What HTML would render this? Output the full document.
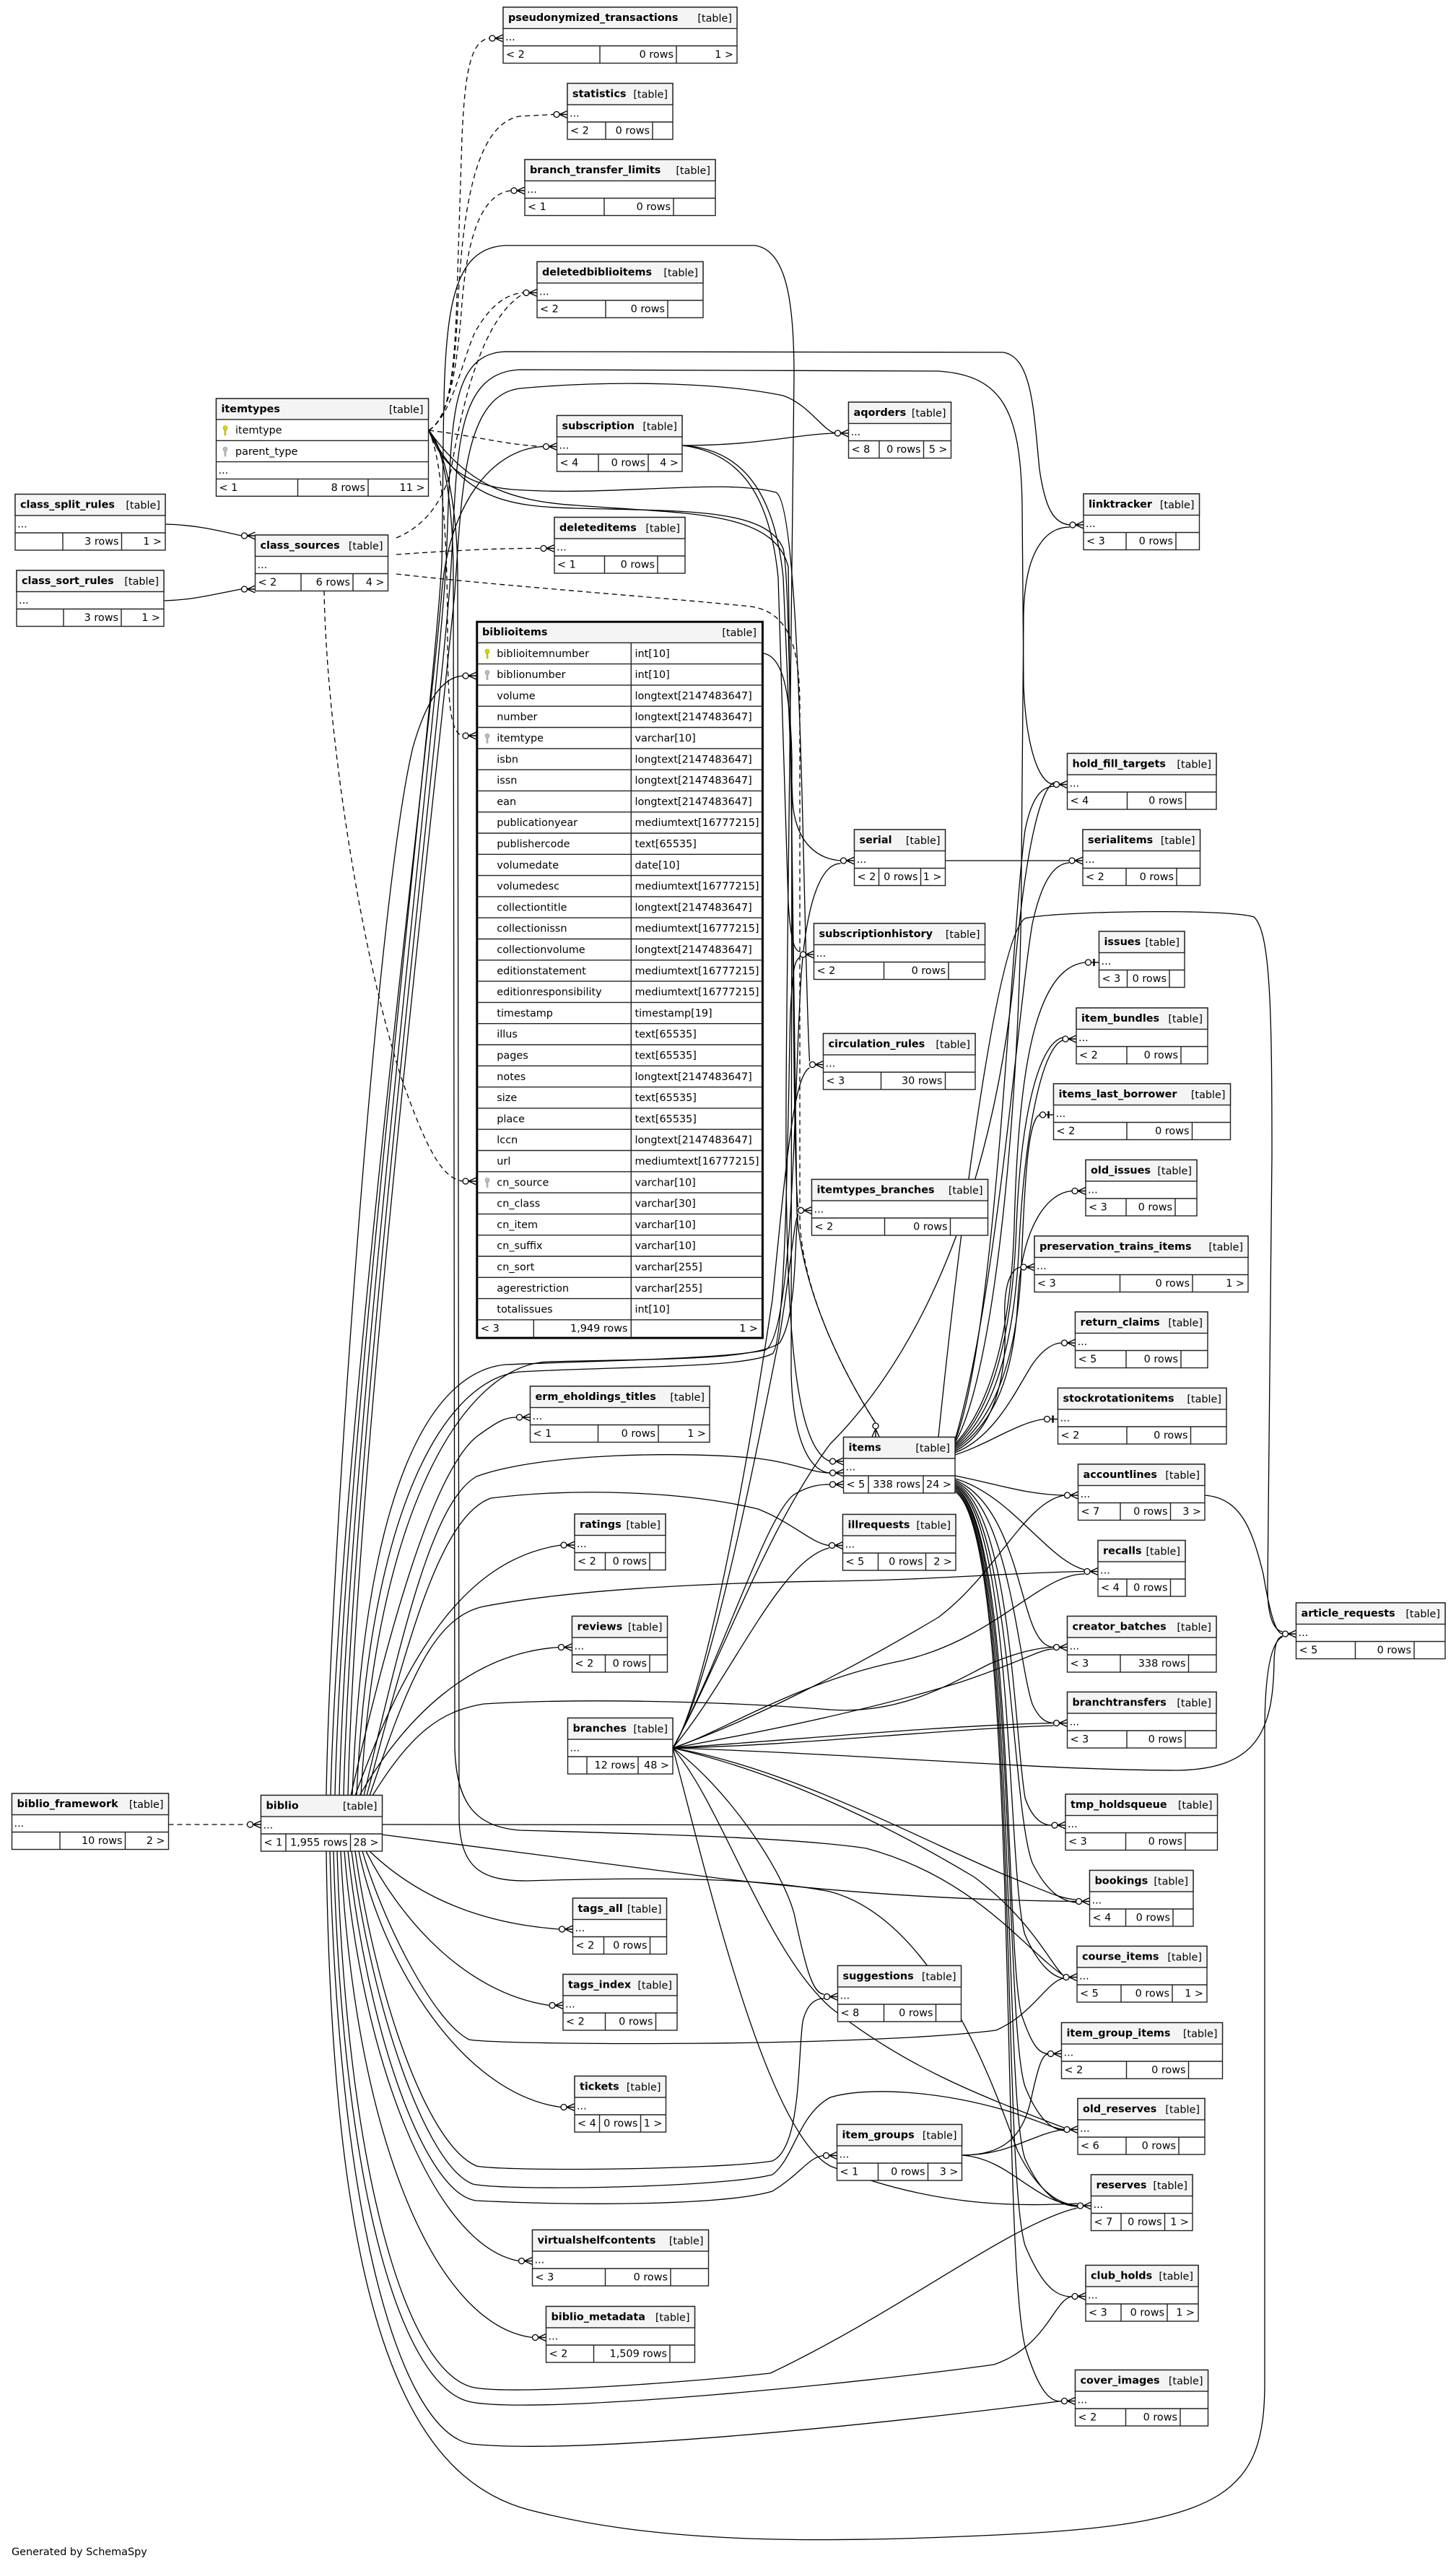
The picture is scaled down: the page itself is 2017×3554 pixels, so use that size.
<!DOCTYPE html>
<html><head><meta charset="utf-8"><style>
html,body{margin:0;padding:0;background:#fff;}
svg{display:block}
text{font-family:"DejaVu Sans","Liberation Sans",sans-serif;font-size:14.4px;fill:#000}
.t{font-weight:bold}
.e{text-anchor:end}
.b{fill:#fff;stroke:#222;stroke-width:1.4}
.h{fill:#f4f4f4;stroke:#222;stroke-width:1.4}
.l{stroke:#222;stroke-width:1.4;fill:none}
.ed path{fill:none;stroke:#000;stroke-width:1.3}
.ed path.ds{stroke-dasharray:7,5}
.m circle{fill:#fff;stroke:#000;stroke-width:1.3}
.m path{fill:none;stroke:#000;stroke-width:1.4}
.tee path.bar{stroke-width:2.4}
.pk{fill:#e0d400;stroke:#a89c00;stroke-width:0.6}
.fk{fill:#bdbdbd;stroke:#909090;stroke-width:0.6}
</style></head><body>
<svg width="2017" height="3554" viewBox="0 0 2017 3554" xmlns="http://www.w3.org/2000/svg">
<rect width="2017" height="3554" fill="#fff"/>
<g class="ed">
<!-- dashed -->
<path class="ds" d="M594,596 C622,580 628,520 632,440 L640,190 C644,100 652,56 678,53"/>
<path class="ds" d="M594,596 C624,578 630,510 634,430 C640,300 656,172 720,161 L767,158.5"/>
<path class="ds" d="M594,596 C624,578 634,500 640,420 C648,320 670,268 708,264"/>
<path class="ds" d="M594,596 C626,576 640,500 658,460 C678,425 700,407 725,405.5"/>
<path class="ds" d="M549,745 C585,730 612,700 625,650 C640,560 668,440 725,407"/>
<path class="ds" d="M594,596 C660,604 700,616 752.5,618.5"/>
<path class="ds" d="M594,596 C614,640 620,760 620,880 C620,980 625,1016 641,1019"/>
<path class="ds" d="M549,768 C620,763 690,759 749,759.5"/>
<path class="ds" d="M549,795 C700,812 900,826 1040,840 C1095,848 1108,900 1108,980 L1108,1690 C1112,1800 1180,1920 1213,1971"/>
<path class="ds" d="M449,818 C452,1000 495,1300 555,1490 C590,1590 612,1632 641,1636"/>
<path class="ds" d="M233.5,2527 L342.5,2527"/>
<!-- solid misc -->
<path d="M229,726 C270,727 300,734 334.5,742"/>
<path d="M227,832 C270,831 300,822 334.5,816"/>
<path d="M945,617 C1050,617 1100,602 1156.5,600"/>
<path d="M1309.5,1192 L1481,1192"/>
<path d="M945,617 C1040,622 1075,700 1085,800 L1098,1110 C1102,1170 1135,1190 1164.5,1192"/>
<path d="M945,617 C1035,628 1068,700 1078,800 L1092,1250 C1095,1300 1100,1318 1108.5,1318"/>
<path d="M594,596 C610,640 640,672 710,678 C850,688 1000,662 1075,682 C1112,700 1112,1300 1121.5,1470"/>
<path d="M594,596 C640,690 700,702 800,704 C950,708 1062,704 1085,760 C1100,820 1096,1600 1105.5,1672"/>
<path d="M594,596 C645,668 700,694 800,700 C950,712 1072,706 1092,785 L1104,1680 C1112,1800 1180,1920 1213,1971"/>
<path d="M1058,905 C1085,910 1095,960 1097,1050 L1096,1900 C1098,1990 1120,2038 1149.5,2040"/>
<!-- biblio up bundle -->
<path d="M452,2487 C456,2200 520,1250 572,1035 C592,965 615,938 641,936"/>
<path d="M458,2487 C470,2000 598,1000 612,820 C622,700 680,622 752.5,618.5"/>
<path d="M464,2487 C476,2000 600,1000 612,780 C618,500 600,345 700,340 L1045,340 C1090,345 1100,420 1100,520 L1090,1400 C1086,1750 1090,2000 1149.5,2024"/>
<path d="M470,2487 C482,2000 606,1000 618,780 C626,600 618,490 700,487 L1390,488 C1430,495 1432,570 1440,650 C1448,705 1460,725 1482,727"/>
<path d="M476,2487 C488,2000 610,1000 624,800 C634,640 626,516 720,512 L1300,514 C1390,520 1414,570 1416,700 L1418,950 C1422,1040 1440,1084 1459.5,1086.5"/>
<path d="M482,2487 C494,2000 614,1000 630,820 C640,680 642,548 720,538 C850,526 1000,530 1085,548 C1120,560 1140,596 1156.5,600"/>
<path d="M488,2487 C505,2050 600,1900 700,1890 C850,1884 1000,1882 1060,1870 C1100,1850 1100,1500 1110,1350 C1118,1240 1140,1196 1164.5,1196"/>
<path d="M494,2487 C512,2080 620,1910 720,1900 C870,1892 1030,1895 1070,1875 C1090,1860 1092,1500 1095,1400 C1098,1345 1100,1330 1108.5,1326"/>
<path d="M500,2487 C520,2100 640,1890 760,1886 C900,1882 1045,1885 1080,1860 C1105,1820 1100,1720 1105.5,1681"/>
<path d="M486,2487 C540,2250 600,2040 660,1990 C690,1968 700,1963 715.5,1963"/>
<path d="M492,2487 C560,2300 640,2160 777,2140"/>
<path d="M498,2487 C560,2380 650,2290 773.5,2281.5"/>
<path d="M504,2487 C560,2250 600,2080 660,2045 C750,2012 950,2010 1050,2020 C1100,2026 1125,2040 1149.5,2040"/>
<path d="M508,2487 C565,2270 610,2100 680,2075 C800,2060 950,2066 1050,2090 C1100,2110 1125,2138 1148.5,2140.5"/>
<path d="M512,2487 C565,2330 600,2240 670,2225 C800,2200 1000,2192 1150,2190 C1300,2188 1400,2178 1502,2176.5"/>
<path d="M516,2487 C570,2400 610,2370 670,2360 C800,2352 1000,2356 1150,2368 C1250,2375 1320,2330 1370,2305 C1410,2288 1440,2282 1459.5,2281.5"/>
<path d="M529.5,2527 L1457,2528"/>
<path d="M529.5,2541 L1000,2602 C1200,2625 1350,2632 1490.5,2633.5"/>
<!-- itemtypes long verticals -->
<path d="M594,596 C615,620 628,700 628,800 L630,2420 C632,2500 660,2530 720,2535 C900,2540 1100,2545 1200,2560 C1350,2600 1420,2700 1473,2736"/>
<path d="M594,596 C617,625 634,700 634,800 L636,2520 C638,2590 670,2605 730,2605 C900,2600 1050,2600 1150,2620 C1300,2660 1380,2900 1410,2980 C1440,3040 1470,3053 1492.5,3055"/>
<!-- biblio bottom fan -->
<path d="M512,2564 C560,2610 640,2662 774.5,2672"/>
<path d="M507,2564 C550,2650 640,2760 761,2777.5"/>
<path d="M502,2564 C530,2660 600,2800 650,2825 C700,2833 1200,2835 1380,2812 C1430,2790 1450,2745 1473,2740"/>
<path d="M497,2564 C530,2720 640,2900 777,2918.5"/>
<path d="M492,2564 C520,2760 590,2970 660,3000 C700,3008 1000,3005 1070,2993 C1110,2975 1105,2850 1112,2800 C1118,2775 1130,2768 1141.5,2768"/>
<path d="M487,2564 C515,2780 590,3000 655,3025 C700,3035 1000,3030 1070,3012 C1100,2990 1105,2930 1150,2905 C1200,2890 1300,2895 1400,2925 C1440,2938 1460,2948 1474,2949.5"/>
<path d="M482,2564 C510,2820 590,3040 660,3048 C800,3055 1000,3055 1070,3035 C1110,3010 1120,2988 1140.5,2985.5"/>
<path d="M477,2564 C500,2850 600,3110 718.5,3131.5"/>
<path d="M472,2564 C490,2950 600,3220 737.5,3237.5"/>
<path d="M467,2564 C480,3000 560,3280 653,3306 C700,3318 950,3300 1067,3287 C1250,3200 1400,3080 1492.5,3058"/>
<path d="M462,2564 C475,3050 560,3310 653,3327 C750,3345 1200,3300 1377,3275 C1450,3250 1460,3185 1485,3180.5"/>
<path d="M457,2564 C470,3100 560,3370 653,3385 C800,3400 1200,3360 1470.5,3325.5"/>
<path d="M452,2564 C460,3200 560,3430 732,3476 C900,3520 1100,3525 1400,3510 C1700,3495 1752,3450 1752,3300 L1752,2400 C1752,2320 1760,2275 1776.5,2267"/>
<!-- items -> article_requests top loop -->
<path d="M1300,1990 C1330,1700 1380,1300 1420,1272 C1460,1262 1700,1258 1737,1270 C1760,1290 1762,1400 1762,1600 L1756,2200 C1756,2240 1765,2258 1776.5,2260"/>
<path d="M1669,2071 C1720,2075 1735,2120 1750,2180 C1760,2240 1768,2262 1776.5,2263"/>
<!-- items top fan -->
<path d="M1323,2000 C1370,1950 1400,1850 1405,1700 C1410,1500 1430,1340 1503.5,1333"/>
<path d="M1323,2002 C1372,1955 1402,1860 1408,1700 C1414,1540 1440,1445 1472,1437"/>
<path d="M1323,2004 C1375,1960 1405,1870 1412,1720 C1420,1560 1445,1450 1472,1441"/>
<path d="M1323,2006 C1378,1965 1410,1880 1415,1750 C1420,1620 1425,1550 1440.5,1544"/>
<path d="M1323,2008 C1380,1970 1405,1900 1410,1800 C1415,1700 1450,1652 1485,1649.5"/>
<path d="M1323,2010 C1380,1980 1395,1900 1392,1830 C1390,1780 1400,1757 1414,1755"/>
<path d="M1323,2012 C1380,1990 1410,1920 1430,1890 C1445,1868 1460,1860 1470.5,1860"/>
<path d="M1323,2015 C1370,2000 1410,1970 1446.5,1965.5"/>
<path d="M1323,1998 C1380,1900 1415,1500 1415,1200 L1418,850 C1420,760 1450,730 1482,730"/>
<path d="M1323,1996 C1380,1850 1400,1300 1420,1150 C1430,1100 1445,1090 1459.5,1089"/>
<path d="M1323,1994 C1380,1800 1410,1400 1430,1280 C1445,1210 1465,1196 1481,1195"/>
<!-- items right fan -->
<path d="M1323,2044 C1380,2055 1420,2070 1474.5,2071"/>
<path d="M1323,2048 C1400,2070 1450,2160 1502,2174"/>
<path d="M1323,2050 C1395,2080 1410,2200 1430,2250 C1440,2275 1450,2281 1459.5,2281.5"/>
<path d="M1323,2052 C1398,2085 1410,2300 1430,2360 C1440,2382 1450,2386 1459.5,2386.5"/>
<path d="M1323,2054 C1400,2090 1405,2400 1420,2490 C1430,2520 1445,2528 1457,2528"/>
<path d="M1323,2056 C1402,2095 1400,2500 1430,2580 C1450,2620 1470,2633 1490.5,2635"/>
<path d="M1323,2058 C1405,2100 1395,2600 1420,2680 C1440,2725 1460,2738 1473,2740"/>
<path d="M1323,2060 C1405,2105 1392,2700 1415,2790 C1430,2835 1440,2844 1451.5,2844.5"/>
<path d="M1323,2060 C1408,2110 1390,2800 1420,2890 C1440,2940 1460,2950 1474,2951"/>
<path d="M1323,2062 C1410,2115 1388,2900 1420,2990 C1445,3045 1470,3055 1492.5,3056"/>
<path d="M1323,2064 C1412,2120 1386,3000 1420,3110 C1445,3170 1465,3181 1485,3181"/>
<path d="M1323,2066 C1414,2125 1384,3100 1420,3250 C1440,3315 1455,3326 1470.5,3326"/>
<!-- branches fan -->
<path d="M932,2421 C980,2350 1040,2000 1070,1800 C1090,1600 1100,1490 1121.5,1479"/>
<path d="M932,2421 C985,2340 1050,2000 1080,1850 C1095,1760 1100,1690 1105.5,1683"/>
<path d="M932,2421 C1000,2300 1060,2100 1100,2070 C1120,2058 1135,2056 1149.5,2056"/>
<path d="M932,2421 C1010,2330 1080,2160 1148.5,2144"/>
<path d="M932,2421 C1050,2380 1200,2300 1300,2240 C1380,2180 1420,2080 1474.5,2071"/>
<path d="M932,2421 C1000,2400 1100,2330 1250,2300 C1380,2270 1440,2180 1502,2180"/>
<path d="M932,2421 C1050,2400 1200,2370 1330,2330 C1420,2300 1440,2284 1459.5,2284"/>
<path d="M932,2421 C1100,2410 1300,2390 1459.5,2386.5"/>
<path d="M932,2421 C1100,2418 1300,2395 1459.5,2390"/>
<path d="M932,2421 C1200,2430 1450,2452 1631,2452 C1740,2450 1764,2400 1765,2300 C1766,2275 1770,2268 1776.5,2266"/>
<path d="M932,2421 C1000,2470 1080,2580 1100,2650 C1115,2720 1125,2762 1141.5,2762"/>
<path d="M932,2421 C1100,2460 1250,2540 1350,2600 C1430,2660 1455,2720 1473,2736"/>
<path d="M932,2421 C1000,2500 1060,2700 1150,2780 C1250,2860 1350,2900 1474,2947"/>
<path d="M932,2421 C980,2600 1060,2950 1150,3000 C1300,3060 1420,3055 1492.5,3052"/>
<path d="M932,2421 C1100,2450 1300,2560 1400,2600 C1450,2620 1470,2630 1490.5,2631"/>
<path d="M932,2421 C1000,2300 1060,2120 1150,2000 C1300,1850 1380,1600 1405,1350 C1420,1180 1440,1095 1459.5,1084"/>
<!-- item_groups fan -->
<path d="M1332.5,2985 C1400,2985 1420,2950 1430,2900 C1440,2855 1445,2846 1451.5,2845"/>
<path d="M1332.5,2985 C1400,2985 1430,2955 1474,2949.5"/>
<path d="M1332.5,2985 C1400,2990 1430,3050 1492.5,3055"/>
</g>

<!-- markers -->
<g class="m">
<g transform="translate(697,53)"><circle cx="-15" r="4"/><path d="M-11,0L0,-5M-11,0H0M-11,0L0,5"/></g>
<g transform="translate(786,158.5)"><circle cx="-15" r="4"/><path d="M-11,0L0,-5M-11,0H0M-11,0L0,5"/></g>
<g transform="translate(727,264)"><circle cx="-15" r="4"/><path d="M-11,0L0,-5M-11,0H0M-11,0L0,5"/></g>
<g transform="translate(744,405.5)"><circle cx="-15" r="4"/><path d="M-11,0L0,-5M-11,0H0M-11,0L0,5"/></g>
<g transform="translate(771.5,618.5)"><circle cx="-15" r="4"/><path d="M-11,0L0,-5M-11,0H0M-11,0L0,5"/></g>
<g transform="translate(768,759.5)"><circle cx="-15" r="4"/><path d="M-11,0L0,-5M-11,0H0M-11,0L0,5"/></g>
<g transform="translate(1175.5,600)"><circle cx="-15" r="4"/><path d="M-11,0L0,-5M-11,0H0M-11,0L0,5"/></g>
<g transform="translate(1501,727)"><circle cx="-15" r="4"/><path d="M-11,0L0,-5M-11,0H0M-11,0L0,5"/></g>
<g transform="translate(1478.5,1086.5)"><circle cx="-15" r="4"/><path d="M-11,0L0,-5M-11,0H0M-11,0L0,5"/></g>
<g transform="translate(1183.5,1192)"><circle cx="-15" r="4"/><path d="M-11,0L0,-5M-11,0H0M-11,0L0,5"/></g>
<g transform="translate(1500,1192)"><circle cx="-15" r="4"/><path d="M-11,0L0,-5M-11,0H0M-11,0L0,5"/></g>
<g transform="translate(1127.5,1322)"><circle cx="-15" r="4"/><path d="M-11,0L0,-5M-11,0H0M-11,0L0,5"/></g>
<g transform="translate(1140.5,1474.5)"><circle cx="-15" r="4"/><path d="M-11,0L0,-5M-11,0H0M-11,0L0,5"/></g>
<g transform="translate(1124.5,1676.5)"><circle cx="-15" r="4"/><path d="M-11,0L0,-5M-11,0H0M-11,0L0,5"/></g>
<g class="tee" transform="translate(1522.5,1333)"><circle cx="-15" r="4"/><path d="M-11,0H0"/><path class="bar" d="M-7,-5V5"/></g>
<g transform="translate(1491,1439)"><circle cx="-15" r="4"/><path d="M-11,0L0,-5M-11,0H0M-11,0L0,5"/></g>
<g class="tee" transform="translate(1459.5,1544)"><circle cx="-15" r="4"/><path d="M-11,0H0"/><path class="bar" d="M-7,-5V5"/></g>
<g transform="translate(1504,1649.5)"><circle cx="-15" r="4"/><path d="M-11,0L0,-5M-11,0H0M-11,0L0,5"/></g>
<g transform="translate(1433,1755)"><circle cx="-15" r="4"/><path d="M-11,0L0,-5M-11,0H0M-11,0L0,5"/></g>
<g transform="translate(1489.5,1860)"><circle cx="-15" r="4"/><path d="M-11,0L0,-5M-11,0H0M-11,0L0,5"/></g>
<g class="tee" transform="translate(1465.5,1965.5)"><circle cx="-15" r="4"/><path d="M-11,0H0"/><path class="bar" d="M-7,-5V5"/></g>
<g transform="translate(1168.5,2024)"><circle cx="-15" r="4"/><path d="M-11,0L0,-5M-11,0H0M-11,0L0,5"/></g>
<g transform="translate(1168.5,2040)"><circle cx="-15" r="4"/><path d="M-11,0L0,-5M-11,0H0M-11,0L0,5"/></g>
<g transform="translate(1168.5,2056)"><circle cx="-15" r="4"/><path d="M-11,0L0,-5M-11,0H0M-11,0L0,5"/></g>
<g transform="translate(1213,1990) rotate(90)"><circle cx="-15" r="4"/><path d="M-11,0L0,-5M-11,0H0M-11,0L0,5"/></g>
<g transform="translate(1167.5,2140.5)"><circle cx="-15" r="4"/><path d="M-11,0L0,-5M-11,0H0M-11,0L0,5"/></g>
<g transform="translate(1493.5,2071)"><circle cx="-15" r="4"/><path d="M-11,0L0,-5M-11,0H0M-11,0L0,5"/></g>
<g transform="translate(1521,2176.5)"><circle cx="-15" r="4"/><path d="M-11,0L0,-5M-11,0H0M-11,0L0,5"/></g>
<g transform="translate(1795.5,2263)"><circle cx="-15" r="4"/><path d="M-11,0L0,-5M-11,0H0M-11,0L0,5"/></g>
<g transform="translate(1478.5,2281.5)"><circle cx="-15" r="4"/><path d="M-11,0L0,-5M-11,0H0M-11,0L0,5"/></g>
<g transform="translate(1478.5,2386.5)"><circle cx="-15" r="4"/><path d="M-11,0L0,-5M-11,0H0M-11,0L0,5"/></g>
<g transform="translate(1476,2528)"><circle cx="-15" r="4"/><path d="M-11,0L0,-5M-11,0H0M-11,0L0,5"/></g>
<g transform="translate(1509.5,2633.5)"><circle cx="-15" r="4"/><path d="M-11,0L0,-5M-11,0H0M-11,0L0,5"/></g>
<g transform="translate(1492,2738.5)"><circle cx="-15" r="4"/><path d="M-11,0L0,-5M-11,0H0M-11,0L0,5"/></g>
<g transform="translate(1470.5,2844.5)"><circle cx="-15" r="4"/><path d="M-11,0L0,-5M-11,0H0M-11,0L0,5"/></g>
<g transform="translate(1493,2949.5)"><circle cx="-15" r="4"/><path d="M-11,0L0,-5M-11,0H0M-11,0L0,5"/></g>
<g transform="translate(1511.5,3055)"><circle cx="-15" r="4"/><path d="M-11,0L0,-5M-11,0H0M-11,0L0,5"/></g>
<g transform="translate(1504,3180.5)"><circle cx="-15" r="4"/><path d="M-11,0L0,-5M-11,0H0M-11,0L0,5"/></g>
<g transform="translate(1489.5,3325.5)"><circle cx="-15" r="4"/><path d="M-11,0L0,-5M-11,0H0M-11,0L0,5"/></g>
<g transform="translate(1160.5,2765.5)"><circle cx="-15" r="4"/><path d="M-11,0L0,-5M-11,0H0M-11,0L0,5"/></g>
<g transform="translate(1159.5,2985.5)"><circle cx="-15" r="4"/><path d="M-11,0L0,-5M-11,0H0M-11,0L0,5"/></g>
<g transform="translate(734.5,1963)"><circle cx="-15" r="4"/><path d="M-11,0L0,-5M-11,0H0M-11,0L0,5"/></g>
<g transform="translate(796,2140)"><circle cx="-15" r="4"/><path d="M-11,0L0,-5M-11,0H0M-11,0L0,5"/></g>
<g transform="translate(792.5,2281.5)"><circle cx="-15" r="4"/><path d="M-11,0L0,-5M-11,0H0M-11,0L0,5"/></g>
<g transform="translate(793.5,2672)"><circle cx="-15" r="4"/><path d="M-11,0L0,-5M-11,0H0M-11,0L0,5"/></g>
<g transform="translate(780,2777.5)"><circle cx="-15" r="4"/><path d="M-11,0L0,-5M-11,0H0M-11,0L0,5"/></g>
<g transform="translate(796,2918.5)"><circle cx="-15" r="4"/><path d="M-11,0L0,-5M-11,0H0M-11,0L0,5"/></g>
<g transform="translate(737.5,3131.5)"><circle cx="-15" r="4"/><path d="M-11,0L0,-5M-11,0H0M-11,0L0,5"/></g>
<g transform="translate(756.5,3237.5)"><circle cx="-15" r="4"/><path d="M-11,0L0,-5M-11,0H0M-11,0L0,5"/></g>
<g transform="translate(361.5,2527)"><circle cx="-15" r="4"/><path d="M-11,0L0,-5M-11,0H0M-11,0L0,5"/></g>
<g transform="translate(353.5,742)"><circle cx="-15" r="4"/><path d="M-11,0L0,-5M-11,0H0M-11,0L0,5"/></g>
<g transform="translate(353.5,816)"><circle cx="-15" r="4"/><path d="M-11,0L0,-5M-11,0H0M-11,0L0,5"/></g>
<g transform="translate(660,936)"><circle cx="-15" r="4"/><path d="M-11,0L0,-5M-11,0H0M-11,0L0,5"/></g>
<g transform="translate(660,1019)"><circle cx="-15" r="4"/><path d="M-11,0L0,-5M-11,0H0M-11,0L0,5"/></g>
<g transform="translate(660,1636)"><circle cx="-15" r="4"/><path d="M-11,0L0,-5M-11,0H0M-11,0L0,5"/></g>
</g>

<!-- tables -->
<g transform="translate(697,10)"><rect class="b" width="324" height="77.5"/><rect class="h" width="324" height="29.5"/><path class="l" d="M0,53.5H324M134,53.5V77.5M240,53.5V77.5"/><text class="t" x="7" y="19">pseudonymized_transactions</text><text class="e" x="317" y="20">[table]</text><text x="3" y="46">...</text><text x="4" y="70">&lt; 2</text><text class="e" x="236" y="70">0 rows</text><text class="e" x="319" y="70">1 &gt;</text></g>

<g transform="translate(786,115.5)"><rect class="b" width="146" height="77.5"/><rect class="h" width="146" height="29.5"/><path class="l" d="M0,53.5H146M53,53.5V77.5M118,53.5V77.5"/><text class="t" x="7" y="19">statistics</text><text class="e" x="139" y="20">[table]</text><text x="3" y="46">...</text><text x="4" y="70">&lt; 2</text><text class="e" x="114" y="70">0 rows</text></g>

<g transform="translate(727,221)"><rect class="b" width="264" height="77.5"/><rect class="h" width="264" height="29.5"/><path class="l" d="M0,53.5H264M110,53.5V77.5M206,53.5V77.5"/><text class="t" x="7" y="19">branch_transfer_limits</text><text class="e" x="257" y="20">[table]</text><text x="3" y="46">...</text><text x="4" y="70">&lt; 1</text><text class="e" x="202" y="70">0 rows</text></g>

<g transform="translate(744,362.5)"><rect class="b" width="230" height="77.5"/><rect class="h" width="230" height="29.5"/><path class="l" d="M0,53.5H230M95,53.5V77.5M181,53.5V77.5"/><text class="t" x="7" y="19">deletedbiblioitems</text><text class="e" x="223" y="20">[table]</text><text x="3" y="46">...</text><text x="4" y="70">&lt; 2</text><text class="e" x="177" y="70">0 rows</text></g>

<!-- itemtypes -->
<g transform="translate(299.5,552)"><rect class="b" width="294" height="135.3"/><rect class="h" width="294" height="29"/><path class="l" d="M0,58.3H294M0,87.6H294M0,111.4H294M113,111.4V135.3M210.5,111.4V135.3"/><text class="t" x="7" y="19">itemtypes</text><text class="e" x="287" y="20">[table]</text>
<g transform="translate(12.5,43.7)"><circle class="pk" cy="-3" r="3"/><path class="pk" d="M-1,0H1V7H-1Z"/></g><text x="26.5" y="48.5">itemtype</text>
<g transform="translate(12.5,73)"><circle class="fk" cy="-3" r="3"/><path class="fk" d="M-1,0H1V7H-1Z"/></g><text x="26.5" y="78">parent_type</text>
<text x="3" y="104">...</text><text x="4" y="128">&lt; 1</text><text class="e" x="206.5" y="128">8 rows</text><text class="e" x="289" y="128">11 &gt;</text></g>

<g transform="translate(21,684.5)"><rect class="b" width="208" height="77.5"/><rect class="h" width="208" height="29.5"/><path class="l" d="M0,53.5H208M66,53.5V77.5M147.5,53.5V77.5"/><text class="t" x="7" y="19">class_split_rules</text><text class="e" x="201" y="20">[table]</text><text x="3" y="46">...</text><text class="e" x="143.5" y="70">3 rows</text><text class="e" x="203" y="70">1 &gt;</text></g>

<g transform="translate(23,790)"><rect class="b" width="204" height="77.5"/><rect class="h" width="204" height="29.5"/><path class="l" d="M0,53.5H204M65,53.5V77.5M145,53.5V77.5"/><text class="t" x="7" y="19">class_sort_rules</text><text class="e" x="197" y="20">[table]</text><text x="3" y="46">...</text><text class="e" x="141" y="70">3 rows</text><text class="e" x="199" y="70">1 &gt;</text></g>

<g transform="translate(353.5,741)"><rect class="b" width="184" height="77.5"/><rect class="h" width="184" height="29.5"/><path class="l" d="M0,53.5H184M63.5,53.5V77.5M135.5,53.5V77.5"/><text class="t" x="7" y="19">class_sources</text><text class="e" x="177" y="20">[table]</text><text x="3" y="46">...</text><text x="4" y="70">&lt; 2</text><text class="e" x="131.5" y="70">6 rows</text><text class="e" x="179" y="70">4 &gt;</text></g>

<g transform="translate(771.5,575.5)"><rect class="b" width="173.5" height="77.5"/><rect class="h" width="173.5" height="29.5"/><path class="l" d="M0,53.5H173.5M57.5,53.5V77.5M126.5,53.5V77.5"/><text class="t" x="7" y="19">subscription</text><text class="e" x="166.5" y="20">[table]</text><text x="3" y="46">...</text><text x="4" y="70">&lt; 4</text><text class="e" x="122.5" y="70">0 rows</text><text class="e" x="168.5" y="70">4 &gt;</text></g>

<g transform="translate(768,716.5)"><rect class="b" width="181" height="77.5"/><rect class="h" width="181" height="29.5"/><path class="l" d="M0,53.5H181M69.5,53.5V77.5M143,53.5V77.5"/><text class="t" x="7" y="19">deleteditems</text><text class="e" x="174" y="20">[table]</text><text x="3" y="46">...</text><text x="4" y="70">&lt; 1</text><text class="e" x="139" y="70">0 rows</text></g>

<!-- biblioitems -->
<g>
<rect x="660.8" y="861.3" width="395.6" height="991.8" fill="#fff" stroke="#000" stroke-width="3"/>
<rect x="662.3" y="862.8" width="392.6" height="27.5" fill="#f4f4f4"/>
<path class="l" d="M662,890.3H1056M662,919.6H1056M662,948.9H1056M662,978.2H1056M662,1007.5H1056M662,1036.8H1056M662,1066.1H1056M662,1095.4H1056M662,1124.7H1056M662,1154H1056M662,1183.3H1056M662,1212.6H1056M662,1241.9H1056M662,1271.2H1056M662,1300.5H1056M662,1329.8H1056M662,1359.1H1056M662,1388.4H1056M662,1417.7H1056M662,1447H1056M662,1476.3H1056M662,1505.6H1056M662,1534.9H1056M662,1564.2H1056M662,1593.5H1056M662,1622.8H1056M662,1652.1H1056M662,1681.4H1056M662,1710.7H1056M662,1740H1056M662,1769.3H1056M662,1798.6H1056M662,1827.9H1056M874.3,890.3V1853M739.3,1827.9V1853"/>
<text class="t" x="668" y="880">biblioitems</text><text class="e" x="1048" y="881">[table]</text>
<g transform="translate(675,905)"><circle class="pk" cy="-3" r="3"/><path class="pk" d="M-1,0H1V7H-1Z"/></g>
<g transform="translate(675,934.3)"><circle class="fk" cy="-3" r="3"/><path class="fk" d="M-1,0H1V7H-1Z"/></g>
<g transform="translate(675,1022.2)"><circle class="fk" cy="-3" r="3"/><path class="fk" d="M-1,0H1V7H-1Z"/></g>
<g transform="translate(675,1637.5)"><circle class="fk" cy="-3" r="3"/><path class="fk" d="M-1,0H1V7H-1Z"/></g>
<text x="688.3" y="909.8">biblioitemnumber</text><text x="879.5" y="909.8">int[10]</text>
<text x="688.3" y="939.1">biblionumber</text><text x="879.5" y="939.1">int[10]</text>
<text x="688.3" y="968.4">volume</text><text x="879.5" y="968.4">longtext[2147483647]</text>
<text x="688.3" y="997.7">number</text><text x="879.5" y="997.7">longtext[2147483647]</text>
<text x="688.3" y="1027">itemtype</text><text x="879.5" y="1027">varchar[10]</text>
<text x="688.3" y="1056.3">isbn</text><text x="879.5" y="1056.3">longtext[2147483647]</text>
<text x="688.3" y="1085.6">issn</text><text x="879.5" y="1085.6">longtext[2147483647]</text>
<text x="688.3" y="1114.9">ean</text><text x="879.5" y="1114.9">longtext[2147483647]</text>
<text x="688.3" y="1144.2">publicationyear</text><text x="879.5" y="1144.2">mediumtext[16777215]</text>
<text x="688.3" y="1173.5">publishercode</text><text x="879.5" y="1173.5">text[65535]</text>
<text x="688.3" y="1202.8">volumedate</text><text x="879.5" y="1202.8">date[10]</text>
<text x="688.3" y="1232.1">volumedesc</text><text x="879.5" y="1232.1">mediumtext[16777215]</text>
<text x="688.3" y="1261.4">collectiontitle</text><text x="879.5" y="1261.4">longtext[2147483647]</text>
<text x="688.3" y="1290.7">collectionissn</text><text x="879.5" y="1290.7">mediumtext[16777215]</text>
<text x="688.3" y="1320">collectionvolume</text><text x="879.5" y="1320">longtext[2147483647]</text>
<text x="688.3" y="1349.3">editionstatement</text><text x="879.5" y="1349.3">mediumtext[16777215]</text>
<text x="688.3" y="1378.6">editionresponsibility</text><text x="879.5" y="1378.6">mediumtext[16777215]</text>
<text x="688.3" y="1407.9">timestamp</text><text x="879.5" y="1407.9">timestamp[19]</text>
<text x="688.3" y="1437.2">illus</text><text x="879.5" y="1437.2">text[65535]</text>
<text x="688.3" y="1466.5">pages</text><text x="879.5" y="1466.5">text[65535]</text>
<text x="688.3" y="1495.8">notes</text><text x="879.5" y="1495.8">longtext[2147483647]</text>
<text x="688.3" y="1525.1">size</text><text x="879.5" y="1525.1">text[65535]</text>
<text x="688.3" y="1554.4">place</text><text x="879.5" y="1554.4">text[65535]</text>
<text x="688.3" y="1583.7">lccn</text><text x="879.5" y="1583.7">longtext[2147483647]</text>
<text x="688.3" y="1613">url</text><text x="879.5" y="1613">mediumtext[16777215]</text>
<text x="688.3" y="1642.3">cn_source</text><text x="879.5" y="1642.3">varchar[10]</text>
<text x="688.3" y="1671.6">cn_class</text><text x="879.5" y="1671.6">varchar[30]</text>
<text x="688.3" y="1700.9">cn_item</text><text x="879.5" y="1700.9">varchar[10]</text>
<text x="688.3" y="1730.2">cn_suffix</text><text x="879.5" y="1730.2">varchar[10]</text>
<text x="688.3" y="1759.5">cn_sort</text><text x="879.5" y="1759.5">varchar[255]</text>
<text x="688.3" y="1788.8">agerestriction</text><text x="879.5" y="1788.8">varchar[255]</text>
<text x="688.3" y="1818.1">totalissues</text><text x="879.5" y="1818.1">int[10]</text>
<text x="666" y="1844.4">&lt; 3</text><text class="e" x="869.5" y="1844.4">1,949 rows</text><text class="e" x="1050" y="1844.4">1 &gt;</text>
</g>

<g transform="translate(1175.5,557)"><rect class="b" width="142" height="77.5"/><rect class="h" width="142" height="29.5"/><path class="l" d="M0,53.5H142M42.5,53.5V77.5M104,53.5V77.5"/><text class="t" x="7" y="19">aqorders</text><text class="e" x="135" y="20">[table]</text><text x="3" y="46">...</text><text x="4" y="70">&lt; 8</text><text class="e" x="100" y="70">0 rows</text><text class="e" x="137" y="70">5 &gt;</text></g>

<g transform="translate(1501,684)"><rect class="b" width="160.5" height="77.5"/><rect class="h" width="160.5" height="29.5"/><path class="l" d="M0,53.5H160.5M59,53.5V77.5M128,53.5V77.5"/><text class="t" x="7" y="19">linktracker</text><text class="e" x="153.5" y="20">[table]</text><text x="3" y="46">...</text><text x="4" y="70">&lt; 3</text><text class="e" x="124" y="70">0 rows</text></g>

<g transform="translate(1478.5,1043.5)"><rect class="b" width="206.5" height="77.5"/><rect class="h" width="206.5" height="29.5"/><path class="l" d="M0,53.5H206.5M83,53.5V77.5M164,53.5V77.5"/><text class="t" x="7" y="19">hold_fill_targets</text><text class="e" x="199.5" y="20">[table]</text><text x="3" y="46">...</text><text x="4" y="70">&lt; 4</text><text class="e" x="160" y="70">0 rows</text></g>

<g transform="translate(1183.5,1149)"><rect class="b" width="126" height="77.5"/><rect class="h" width="126" height="29.5"/><path class="l" d="M0,53.5H126M34,53.5V77.5M92,53.5V77.5"/><text class="t" x="7" y="19">serial</text><text class="e" x="119" y="20">[table]</text><text x="3" y="46">...</text><text x="4" y="70">&lt; 2</text><text class="e" x="88" y="70">0 rows</text><text class="e" x="121" y="70">1 &gt;</text></g>

<g transform="translate(1500,1149)"><rect class="b" width="162.5" height="77.5"/><rect class="h" width="162.5" height="29.5"/><path class="l" d="M0,53.5H162.5M60,53.5V77.5M130,53.5V77.5"/><text class="t" x="7" y="19">serialitems</text><text class="e" x="155.5" y="20">[table]</text><text x="3" y="46">...</text><text x="4" y="70">&lt; 2</text><text class="e" x="126" y="70">0 rows</text></g>

<g transform="translate(1127.5,1279)"><rect class="b" width="237" height="77.5"/><rect class="h" width="237" height="29.5"/><path class="l" d="M0,53.5H237M97,53.5V77.5M186.5,53.5V77.5"/><text class="t" x="7" y="19">subscriptionhistory</text><text class="e" x="230" y="20">[table]</text><text x="3" y="46">...</text><text x="4" y="70">&lt; 2</text><text class="e" x="182.5" y="70">0 rows</text></g>

<g transform="translate(1140.5,1431.5)"><rect class="b" width="210.5" height="77.5"/><rect class="h" width="210.5" height="29.5"/><path class="l" d="M0,53.5H210.5M80,53.5V77.5M169,53.5V77.5"/><text class="t" x="7" y="19">circulation_rules</text><text class="e" x="203.5" y="20">[table]</text><text x="3" y="46">...</text><text x="4" y="70">&lt; 3</text><text class="e" x="165" y="70">30 rows</text></g>

<g transform="translate(1124.5,1633.5)"><rect class="b" width="244" height="77.5"/><rect class="h" width="244" height="29.5"/><path class="l" d="M0,53.5H244M101,53.5V77.5M192,53.5V77.5"/><text class="t" x="7" y="19">itemtypes_branches</text><text class="e" x="237" y="20">[table]</text><text x="3" y="46">...</text><text x="4" y="70">&lt; 2</text><text class="e" x="188" y="70">0 rows</text></g>

<g transform="translate(1522.5,1290)"><rect class="b" width="118.5" height="77.5"/><rect class="h" width="118.5" height="29.5"/><path class="l" d="M0,53.5H118.5M39,53.5V77.5M97.5,53.5V77.5"/><text class="t" x="7" y="19">issues</text><text class="e" x="111.5" y="20">[table]</text><text x="3" y="46">...</text><text x="4" y="70">&lt; 3</text><text class="e" x="93.5" y="70">0 rows</text></g>

<g transform="translate(1491,1396)"><rect class="b" width="182" height="77.5"/><rect class="h" width="182" height="29.5"/><path class="l" d="M0,53.5H182M70,53.5V77.5M145,53.5V77.5"/><text class="t" x="7" y="19">item_bundles</text><text class="e" x="175" y="20">[table]</text><text x="3" y="46">...</text><text x="4" y="70">&lt; 2</text><text class="e" x="141" y="70">0 rows</text></g>

<g transform="translate(1459.5,1501)"><rect class="b" width="245" height="77.5"/><rect class="h" width="245" height="29.5"/><path class="l" d="M0,53.5H245M101.5,53.5V77.5M192,53.5V77.5"/><text class="t" x="7" y="19">items_last_borrower</text><text class="e" x="238" y="20">[table]</text><text x="3" y="46">...</text><text x="4" y="70">&lt; 2</text><text class="e" x="188" y="70">0 rows</text></g>

<g transform="translate(1504,1606.5)"><rect class="b" width="154" height="77.5"/><rect class="h" width="154" height="29.5"/><path class="l" d="M0,53.5H154M56,53.5V77.5M124,53.5V77.5"/><text class="t" x="7" y="19">old_issues</text><text class="e" x="147" y="20">[table]</text><text x="3" y="46">...</text><text x="4" y="70">&lt; 3</text><text class="e" x="120" y="70">0 rows</text></g>

<g transform="translate(1433,1712)"><rect class="b" width="296" height="77.5"/><rect class="h" width="296" height="29.5"/><path class="l" d="M0,53.5H296M118.5,53.5V77.5M219,53.5V77.5"/><text class="t" x="7" y="19">preservation_trains_items</text><text class="e" x="289" y="20">[table]</text><text x="3" y="46">...</text><text x="4" y="70">&lt; 3</text><text class="e" x="215" y="70">0 rows</text><text class="e" x="291" y="70">1 &gt;</text></g>

<g transform="translate(1489.5,1817)"><rect class="b" width="183.5" height="77.5"/><rect class="h" width="183.5" height="29.5"/><path class="l" d="M0,53.5H183.5M70.5,53.5V77.5M146.5,53.5V77.5"/><text class="t" x="7" y="19">return_claims</text><text class="e" x="176.5" y="20">[table]</text><text x="3" y="46">...</text><text x="4" y="70">&lt; 5</text><text class="e" x="142.5" y="70">0 rows</text></g>

<g transform="translate(1465.5,1922.5)"><rect class="b" width="233.5" height="77.5"/><rect class="h" width="233.5" height="29.5"/><path class="l" d="M0,53.5H233.5M95.5,53.5V77.5M184,53.5V77.5"/><text class="t" x="7" y="19">stockrotationitems</text><text class="e" x="226.5" y="20">[table]</text><text x="3" y="46">...</text><text x="4" y="70">&lt; 2</text><text class="e" x="180" y="70">0 rows</text></g>

<g transform="translate(1168.5,1990.5)"><rect class="b" width="154.5" height="77.5"/><rect class="h" width="154.5" height="29.5"/><path class="l" d="M0,53.5H154.5M34.5,53.5V77.5M110.5,53.5V77.5"/><text class="t" x="7" y="19">items</text><text class="e" x="147.5" y="20">[table]</text><text x="3" y="46">...</text><text x="4" y="70">&lt; 5</text><text class="e" x="106.5" y="70">338 rows</text><text class="e" x="149.5" y="70">24 &gt;</text></g>

<g transform="translate(1167.5,2097.5)"><rect class="b" width="156.5" height="77.5"/><rect class="h" width="156.5" height="29.5"/><path class="l" d="M0,53.5H156.5M49,53.5V77.5M115,53.5V77.5"/><text class="t" x="7" y="19">illrequests</text><text class="e" x="149.5" y="20">[table]</text><text x="3" y="46">...</text><text x="4" y="70">&lt; 5</text><text class="e" x="111" y="70">0 rows</text><text class="e" x="151.5" y="70">2 &gt;</text></g>

<g transform="translate(1493.5,2028)"><rect class="b" width="175.5" height="77.5"/><rect class="h" width="175.5" height="29.5"/><path class="l" d="M0,53.5H175.5M58.5,53.5V77.5M128,53.5V77.5"/><text class="t" x="7" y="19">accountlines</text><text class="e" x="168.5" y="20">[table]</text><text x="3" y="46">...</text><text x="4" y="70">&lt; 7</text><text class="e" x="124" y="70">0 rows</text><text class="e" x="170.5" y="70">3 &gt;</text></g>

<g transform="translate(1521,2133.5)"><rect class="b" width="121" height="77.5"/><rect class="h" width="121" height="29.5"/><path class="l" d="M0,53.5H121M40,53.5V77.5M100.5,53.5V77.5"/><text class="t" x="7" y="19">recalls</text><text class="e" x="114" y="20">[table]</text><text x="3" y="46">...</text><text x="4" y="70">&lt; 4</text><text class="e" x="96.5" y="70">0 rows</text></g>

<g transform="translate(1795.5,2220)"><rect class="b" width="206.5" height="77.5"/><rect class="h" width="206.5" height="29.5"/><path class="l" d="M0,53.5H206.5M82,53.5V77.5M163.5,53.5V77.5"/><text class="t" x="7" y="19">article_requests</text><text class="e" x="199.5" y="20">[table]</text><text x="3" y="46">...</text><text x="4" y="70">&lt; 5</text><text class="e" x="159.5" y="70">0 rows</text></g>

<g transform="translate(1478.5,2238.5)"><rect class="b" width="206.5" height="77.5"/><rect class="h" width="206.5" height="29.5"/><path class="l" d="M0,53.5H206.5M73.5,53.5V77.5M168,53.5V77.5"/><text class="t" x="7" y="19">creator_batches</text><text class="e" x="199.5" y="20">[table]</text><text x="3" y="46">...</text><text x="4" y="70">&lt; 3</text><text class="e" x="164" y="70">338 rows</text></g>

<g transform="translate(1478.5,2343.5)"><rect class="b" width="206.5" height="77.5"/><rect class="h" width="206.5" height="29.5"/><path class="l" d="M0,53.5H206.5M82.5,53.5V77.5M163.5,53.5V77.5"/><text class="t" x="7" y="19">branchtransfers</text><text class="e" x="199.5" y="20">[table]</text><text x="3" y="46">...</text><text x="4" y="70">&lt; 3</text><text class="e" x="159.5" y="70">0 rows</text></g>

<g transform="translate(1476,2485)"><rect class="b" width="210.5" height="77.5"/><rect class="h" width="210.5" height="29.5"/><path class="l" d="M0,53.5H210.5M83.5,53.5V77.5M166,53.5V77.5"/><text class="t" x="7" y="19">tmp_holdsqueue</text><text class="e" x="203.5" y="20">[table]</text><text x="3" y="46">...</text><text x="4" y="70">&lt; 3</text><text class="e" x="162" y="70">0 rows</text></g>

<g transform="translate(1509.5,2590.5)"><rect class="b" width="143.5" height="77.5"/><rect class="h" width="143.5" height="29.5"/><path class="l" d="M0,53.5H143.5M50,53.5V77.5M115.5,53.5V77.5"/><text class="t" x="7" y="19">bookings</text><text class="e" x="136.5" y="20">[table]</text><text x="3" y="46">...</text><text x="4" y="70">&lt; 4</text><text class="e" x="111.5" y="70">0 rows</text></g>

<g transform="translate(1492,2695.5)"><rect class="b" width="180" height="77.5"/><rect class="h" width="180" height="29.5"/><path class="l" d="M0,53.5H180M61,53.5V77.5M132,53.5V77.5"/><text class="t" x="7" y="19">course_items</text><text class="e" x="173" y="20">[table]</text><text x="3" y="46">...</text><text x="4" y="70">&lt; 5</text><text class="e" x="128" y="70">0 rows</text><text class="e" x="175" y="70">1 &gt;</text></g>

<g transform="translate(1470.5,2801.5)"><rect class="b" width="223" height="77.5"/><rect class="h" width="223" height="29.5"/><path class="l" d="M0,53.5H223M90,53.5V77.5M176,53.5V77.5"/><text class="t" x="7" y="19">item_group_items</text><text class="e" x="216" y="20">[table]</text><text x="3" y="46">...</text><text x="4" y="70">&lt; 2</text><text class="e" x="172" y="70">0 rows</text></g>

<g transform="translate(1493,2906.5)"><rect class="b" width="176" height="77.5"/><rect class="h" width="176" height="29.5"/><path class="l" d="M0,53.5H176M67,53.5V77.5M140,53.5V77.5"/><text class="t" x="7" y="19">old_reserves</text><text class="e" x="169" y="20">[table]</text><text x="3" y="46">...</text><text x="4" y="70">&lt; 6</text><text class="e" x="136" y="70">0 rows</text></g>

<g transform="translate(1511.5,3012)"><rect class="b" width="140.5" height="77.5"/><rect class="h" width="140.5" height="29.5"/><path class="l" d="M0,53.5H140.5M41.5,53.5V77.5M102,53.5V77.5"/><text class="t" x="7" y="19">reserves</text><text class="e" x="133.5" y="20">[table]</text><text x="3" y="46">...</text><text x="4" y="70">&lt; 7</text><text class="e" x="98" y="70">0 rows</text><text class="e" x="135.5" y="70">1 &gt;</text></g>

<g transform="translate(1504,3137.5)"><rect class="b" width="156" height="77.5"/><rect class="h" width="156" height="29.5"/><path class="l" d="M0,53.5H156M49,53.5V77.5M113,53.5V77.5"/><text class="t" x="7" y="19">club_holds</text><text class="e" x="149" y="20">[table]</text><text x="3" y="46">...</text><text x="4" y="70">&lt; 3</text><text class="e" x="109" y="70">0 rows</text><text class="e" x="151" y="70">1 &gt;</text></g>

<g transform="translate(1489.5,3282.5)"><rect class="b" width="184" height="77.5"/><rect class="h" width="184" height="29.5"/><path class="l" d="M0,53.5H184M70,53.5V77.5M145.5,53.5V77.5"/><text class="t" x="7" y="19">cover_images</text><text class="e" x="177" y="20">[table]</text><text x="3" y="46">...</text><text x="4" y="70">&lt; 2</text><text class="e" x="141.5" y="70">0 rows</text></g>

<g transform="translate(1160.5,2722.5)"><rect class="b" width="171" height="77.5"/><rect class="h" width="171" height="29.5"/><path class="l" d="M0,53.5H171M64,53.5V77.5M136,53.5V77.5"/><text class="t" x="7" y="19">suggestions</text><text class="e" x="164" y="20">[table]</text><text x="3" y="46">...</text><text x="4" y="70">&lt; 8</text><text class="e" x="132" y="70">0 rows</text></g>

<g transform="translate(1159.5,2942.5)"><rect class="b" width="173" height="77.5"/><rect class="h" width="173" height="29.5"/><path class="l" d="M0,53.5H173M57,53.5V77.5M126,53.5V77.5"/><text class="t" x="7" y="19">item_groups</text><text class="e" x="166" y="20">[table]</text><text x="3" y="46">...</text><text x="4" y="70">&lt; 1</text><text class="e" x="122" y="70">0 rows</text><text class="e" x="168" y="70">3 &gt;</text></g>

<g transform="translate(734.5,1920)"><rect class="b" width="248.5" height="77.5"/><rect class="h" width="248.5" height="29.5"/><path class="l" d="M0,53.5H248.5M94,53.5V77.5M177.5,53.5V77.5"/><text class="t" x="7" y="19">erm_eholdings_titles</text><text class="e" x="241.5" y="20">[table]</text><text x="3" y="46">...</text><text x="4" y="70">&lt; 1</text><text class="e" x="173.5" y="70">0 rows</text><text class="e" x="243.5" y="70">1 &gt;</text></g>

<g transform="translate(796,2097)"><rect class="b" width="126" height="77.5"/><rect class="h" width="126" height="29.5"/><path class="l" d="M0,53.5H126M42.5,53.5V77.5M104,53.5V77.5"/><text class="t" x="7" y="19">ratings</text><text class="e" x="119" y="20">[table]</text><text x="3" y="46">...</text><text x="4" y="70">&lt; 2</text><text class="e" x="100" y="70">0 rows</text></g>

<g transform="translate(792.5,2238.5)"><rect class="b" width="132" height="77.5"/><rect class="h" width="132" height="29.5"/><path class="l" d="M0,53.5H132M46,53.5V77.5M107.5,53.5V77.5"/><text class="t" x="7" y="19">reviews</text><text class="e" x="125" y="20">[table]</text><text x="3" y="46">...</text><text x="4" y="70">&lt; 2</text><text class="e" x="103.5" y="70">0 rows</text></g>

<g transform="translate(786.5,2379.5)"><rect class="b" width="145.5" height="77.5"/><rect class="h" width="145.5" height="29.5"/><path class="l" d="M0,53.5H145.5M26.5,53.5V77.5M97.5,53.5V77.5"/><text class="t" x="7" y="19">branches</text><text class="e" x="138.5" y="20">[table]</text><text x="3" y="46">...</text><text class="e" x="93.5" y="70">12 rows</text><text class="e" x="140.5" y="70">48 &gt;</text></g>

<g transform="translate(16.5,2484)"><rect class="b" width="217" height="77.5"/><rect class="h" width="217" height="29.5"/><path class="l" d="M0,53.5H217M66.5,53.5V77.5M157,53.5V77.5"/><text class="t" x="7" y="19">biblio_framework</text><text class="e" x="210" y="20">[table]</text><text x="3" y="46">...</text><text class="e" x="153" y="70">10 rows</text><text class="e" x="212" y="70">2 &gt;</text></g>

<g transform="translate(361.5,2486.5)"><rect class="b" width="168" height="77.5"/><rect class="h" width="168" height="29.5"/><path class="l" d="M0,53.5H168M34.5,53.5V77.5M124,53.5V77.5"/><text class="t" x="7" y="19">biblio</text><text class="e" x="161" y="20">[table]</text><text x="3" y="46">...</text><text x="4" y="70">&lt; 1</text><text class="e" x="120" y="70">1,955 rows</text><text class="e" x="163" y="70">28 &gt;</text></g>

<g transform="translate(793.5,2629)"><rect class="b" width="130" height="77.5"/><rect class="h" width="130" height="29.5"/><path class="l" d="M0,53.5H130M43,53.5V77.5M107,53.5V77.5"/><text class="t" x="7" y="19">tags_all</text><text class="e" x="123" y="20">[table]</text><text x="3" y="46">...</text><text x="4" y="70">&lt; 2</text><text class="e" x="103" y="70">0 rows</text></g>

<g transform="translate(780,2734.5)"><rect class="b" width="158" height="77.5"/><rect class="h" width="158" height="29.5"/><path class="l" d="M0,53.5H158M58.5,53.5V77.5M128.5,53.5V77.5"/><text class="t" x="7" y="19">tags_index</text><text class="e" x="151" y="20">[table]</text><text x="3" y="46">...</text><text x="4" y="70">&lt; 2</text><text class="e" x="124.5" y="70">0 rows</text></g>

<g transform="translate(796,2875.5)"><rect class="b" width="126.5" height="77.5"/><rect class="h" width="126.5" height="29.5"/><path class="l" d="M0,53.5H126.5M34.5,53.5V77.5M91.5,53.5V77.5"/><text class="t" x="7" y="19">tickets</text><text class="e" x="119.5" y="20">[table]</text><text x="3" y="46">...</text><text x="4" y="70">&lt; 4</text><text class="e" x="87.5" y="70">0 rows</text><text class="e" x="121.5" y="70">1 &gt;</text></g>

<g transform="translate(737.5,3088.5)"><rect class="b" width="244" height="77.5"/><rect class="h" width="244" height="29.5"/><path class="l" d="M0,53.5H244M101,53.5V77.5M191.5,53.5V77.5"/><text class="t" x="7" y="19">virtualshelfcontents</text><text class="e" x="237" y="20">[table]</text><text x="3" y="46">...</text><text x="4" y="70">&lt; 3</text><text class="e" x="187.5" y="70">0 rows</text></g>

<g transform="translate(756.5,3194.5)"><rect class="b" width="206" height="77.5"/><rect class="h" width="206" height="29.5"/><path class="l" d="M0,53.5H206M66,53.5V77.5M171.5,53.5V77.5"/><text class="t" x="7" y="19">biblio_metadata</text><text class="e" x="199" y="20">[table]</text><text x="3" y="46">...</text><text x="4" y="70">&lt; 2</text><text class="e" x="167.5" y="70">1,509 rows</text></g>

<text x="16" y="3539">Generated by SchemaSpy</text>
</svg>
</body></html>
